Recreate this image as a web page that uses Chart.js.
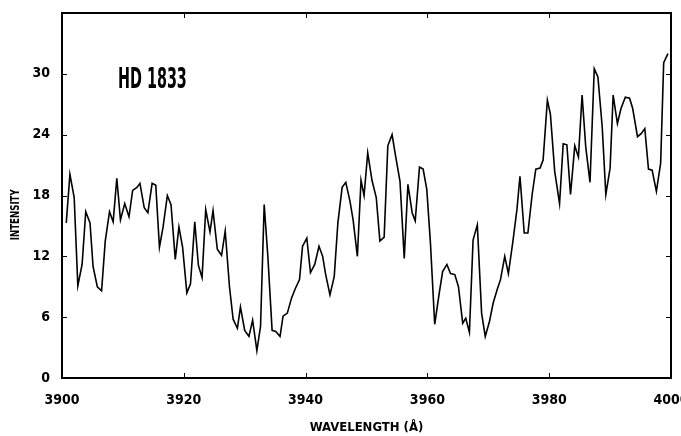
<!DOCTYPE html>
<html>
<head>
<meta charset="utf-8">
<script src="https://cdn.jsdelivr.net/npm/chart.js@4/dist/chart.umd.min.js"></script>
<style>
  html, body { margin: 0; padding: 0; background: #fff; }
  #wrap { width: 681px; height: 436px; }
</style>
</head>
<body>
<div id="wrap"><canvas id="spectrum"></canvas></div>
<script>
// wavelength (A) and intensity
var wavelength = [3900.7, 3901.3, 3902.0, 3902.6, 3903.3, 3903.9, 3904.6, 3905.1, 3905.8, 3906.5,
  3907.1, 3907.8, 3908.4, 3909.0, 3909.6, 3910.3, 3911.0, 3911.6, 3912.3, 3912.8,
  3913.5, 3914.1, 3914.8, 3915.4, 3916.0, 3916.6, 3917.3, 3917.9, 3918.6, 3919.2,
  3919.8, 3920.5, 3921.1, 3921.8, 3922.4, 3923.0, 3923.6, 3924.3, 3924.8, 3925.5,
  3926.2, 3926.8, 3927.5, 3928.1, 3928.8, 3929.3, 3930.0, 3930.7, 3931.3, 3932.0,
  3932.6, 3933.2, 3933.8, 3934.5, 3935.1, 3935.8, 3936.3, 3937.0, 3937.7, 3938.3,
  3939.0, 3939.5, 3940.2, 3940.8, 3941.5, 3942.2, 3942.8, 3943.3, 3944.0, 3944.7,
  3945.3, 3946.0, 3946.6, 3947.3, 3947.8, 3948.5, 3949.1, 3949.6, 3950.2, 3950.9,
  3951.6, 3952.2, 3952.9, 3953.5, 3954.2, 3954.8, 3955.5, 3956.2, 3956.8, 3957.5,
  3958.0, 3958.7, 3959.3, 3959.9, 3960.5, 3961.2, 3961.9, 3962.5, 3963.2, 3963.8,
  3964.5, 3965.1, 3965.8, 3966.3, 3966.9, 3967.5, 3968.2, 3968.9, 3969.5, 3970.2,
  3970.8, 3971.5, 3972.0, 3972.7, 3973.3, 3974.0, 3974.7, 3975.2, 3975.9, 3976.5,
  3977.2, 3977.8, 3978.5, 3979.0, 3979.7, 3980.2, 3980.9, 3981.7, 3982.3, 3982.9,
  3983.5, 3984.2, 3984.8, 3985.4, 3986.0, 3986.7, 3987.4, 3988.0, 3988.7, 3989.3,
  3990.0, 3990.5, 3991.2, 3991.8, 3992.5, 3993.2, 3993.7, 3994.5, 3995.1, 3995.7,
  3996.3, 3996.9, 3997.6, 3998.3, 3998.8, 3999.5];
var intensity = [15.3, 20.1, 17.8, 9.1, 11.2, 16.4, 15.3, 11.0, 9.0, 8.6,
  13.5, 16.4, 15.4, 19.7, 15.6, 17.2, 15.9, 18.5, 18.8, 19.2,
  16.8, 16.3, 19.2, 19.0, 12.9, 14.9, 18.0, 17.1, 11.7, 14.9,
  12.9, 8.4, 9.3, 15.4, 11.1, 9.9, 16.6, 14.4, 16.5, 12.7,
  12.1, 14.5, 9.0, 5.8, 4.9, 7.0, 4.7, 4.1, 5.7, 2.7,
  5.1, 17.1, 12.0, 4.7, 4.6, 4.1, 6.1, 6.4, 7.9, 8.8,
  9.7, 13.0, 13.8, 10.4, 11.2, 13.0, 12.0, 10.2, 8.2, 10.0,
  15.3, 18.8, 19.3, 17.4, 15.6, 12.0, 19.5, 18.0, 22.2, 19.5,
  17.8, 13.5, 13.9, 22.9, 24.0, 21.8, 19.4, 11.8, 19.1, 16.3,
  15.5, 20.8, 20.6, 18.6, 13.3, 5.3, 8.2, 10.5, 11.2, 10.3,
  10.2, 9.0, 5.4, 5.9, 4.5, 13.6, 15.1, 6.4, 4.1, 5.6,
  7.4, 8.8, 9.7, 12.0, 10.3, 13.3, 16.6, 19.9, 14.3, 14.3,
  18.1, 20.6, 20.7, 21.5, 27.4, 26.0, 20.4, 17.2, 23.1, 23.0,
  18.1, 22.9, 21.8, 27.9, 22.8, 19.3, 30.5, 29.7, 24.8, 18.1,
  20.7, 27.9, 25.1, 26.6, 27.7, 27.6, 26.6, 23.8, 24.1, 24.6,
  20.6, 20.5, 18.4, 21.2, 31.1, 32.0];

var xTicks = [3900, 3920, 3940, 3960, 3980, 4000];
var yTicks = [0, 6, 12, 18, 24, 30];
var starName = "HD 1833";
var yTitle = "INTENSITY";

var FONT = '"Liberation Sans Narrow", "Arial Narrow", "DejaVu Sans Condensed", sans-serif';

var points = wavelength.map((w, i) => ({ x: w, y: intensity[i] }));

// box round the plot, inward tick marks, star name, y title
var framePlugin = {
  id: 'frame',
  afterDraw(chart) {
    var ctx = chart.ctx, a = chart.chartArea;
    var xs = chart.scales.x, ys = chart.scales.y;
    ctx.save();
    ctx.strokeStyle = '#000';
    ctx.lineWidth = 2;
    ctx.strokeRect(a.left, a.top, a.right - a.left, a.bottom - a.top);
    ctx.lineWidth = 1;
    ctx.beginPath();
    xTicks.forEach(v => {
      var px = Math.round(xs.getPixelForValue(v)) + 0.5;
      if (px > a.left + 2 && px < a.right - 2) {
        ctx.moveTo(px, a.bottom); ctx.lineTo(px, a.bottom - 5);
        ctx.moveTo(px, a.top); ctx.lineTo(px, a.top + 5);
      }
    });
    yTicks.forEach(v => {
      var py = Math.round(ys.getPixelForValue(v)) + 0.5;
      if (py < a.bottom - 2 && py > a.top + 2) {
        ctx.moveTo(a.left, py); ctx.lineTo(a.left + 5, py);
        ctx.moveTo(a.right, py); ctx.lineTo(a.right - 5, py);
      }
    });
    ctx.stroke();
    ctx.fillStyle = '#000';

    // star name, squeezed like the condensed original lettering
    ctx.save();
    ctx.translate(a.left + 56, a.top + 75);
    ctx.scale(0.55, 1);
    ctx.font = 'bold 29px ' + FONT;
    ctx.textBaseline = 'alphabetic';
    ctx.fillText(starName, 0, 0);
    ctx.restore();

    // y axis title
    ctx.save();
    ctx.translate(16, ys.getPixelForValue(16.1));
    ctx.rotate(-Math.PI / 2);
    ctx.scale(0.8, 1);
    ctx.font = 'bold 12px ' + FONT;
    ctx.textAlign = 'center';
    ctx.textBaseline = 'middle';
    ctx.fillText(yTitle, 0, 0);
    ctx.restore();

    ctx.restore();
  }
};

new Chart(document.getElementById('spectrum'), {
  type: 'line',
  data: {
    datasets: [{
      data: points,
      borderColor: '#000',
      borderWidth: 1.6,
      pointRadius: 0,
      tension: 0,
      fill: false
    }]
  },
  options: {
    responsive: true,
    maintainAspectRatio: false,
    animation: false,
    layout: { padding: { top: 13, right: 10, left: 0, bottom: 0 } },
    plugins: { legend: { display: false }, tooltip: { enabled: false } },
    scales: {
      x: {
        type: 'linear',
        min: 3900,
        max: 4000,
        afterBuildTicks: s => { s.ticks = xTicks.map(v => ({ value: v })); },
        ticks: { color: '#000', padding: 6, maxRotation: 0, autoSkip: false,
                 callback: v => String(v),
                 font: { family: FONT, size: 14, weight: 'bold' } },
        grid: { display: false },
        border: { display: false },
        title: { display: true, text: 'WAVELENGTH (Å)', color: '#000',
                 font: { family: FONT, size: 13, weight: 'bold' },
                 padding: { top: 0, bottom: 1 } },
        afterFit: s => { s.height = 58; s.paddingLeft = 0; s.paddingRight = 0; }
      },
      y: {
        min: 0,
        max: 36,
        afterBuildTicks: s => { s.ticks = yTicks.map(v => ({ value: v })); },
        ticks: { color: '#000', padding: 4,
                 callback: v => String(v),
                 font: { family: FONT, size: 14, weight: 'bold' } },
        grid: { display: false },
        border: { display: false },
        afterFit: s => { s.width = 62; s.paddingTop = 0; s.paddingBottom = 0; }
      }
    }
  },
  plugins: [framePlugin]
});
</script>
</body>
</html>
